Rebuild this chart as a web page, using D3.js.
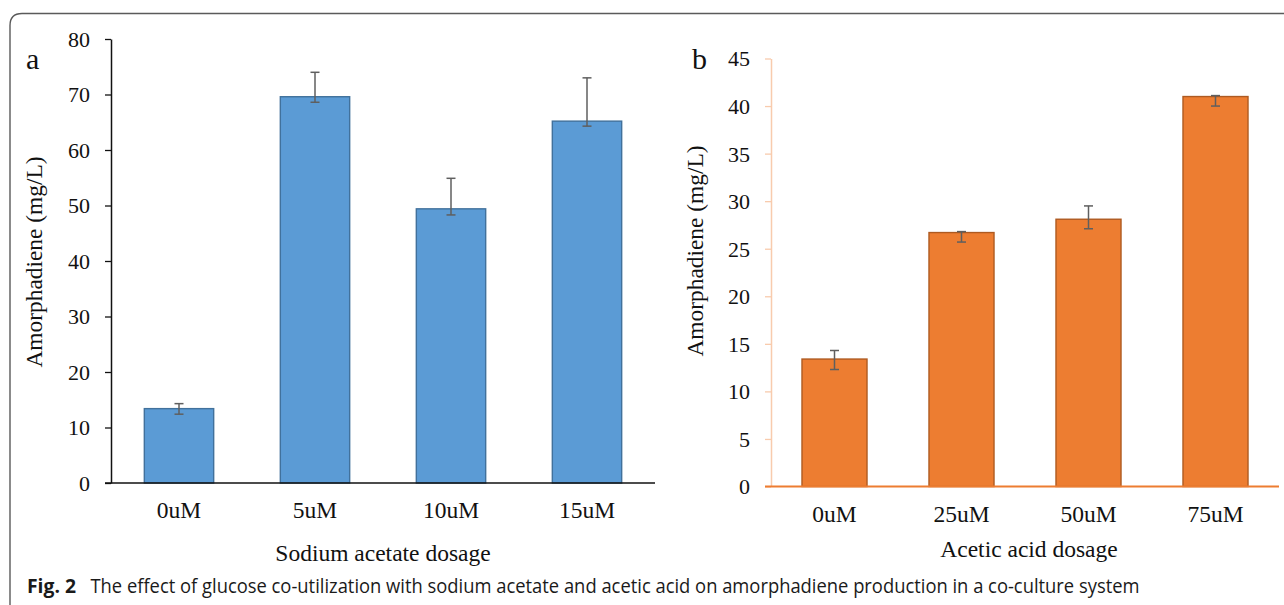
<!DOCTYPE html>
<html>
<head>
<meta charset="utf-8">
<script src="https://cdn.jsdelivr.net/npm/d3@7"></script>
<style>
  html, body { margin: 0; padding: 0; background: #fff; }
  svg { display: block; }
  .serif { font-family: "Liberation Serif", "Times New Roman", serif; fill: #111; }
</style>
</head>
<body>
<svg id="chart" width="1284" height="605"></svg>
<script>
// ---- Data ----
const catsA = ["0uM", "5uM", "10uM", "15uM"];
const valsA = [13.4, 69.6, 49.4, 65.2];
const errHiA = [14.3, 74.0, 54.9, 73.0];
const errLoA = [12.4, 68.6, 48.3, 64.3];
const ticksA = [0, 10, 20, 30, 40, 50, 60, 70, 80];

const catsB = ["0uM", "25uM", "50uM", "75uM"];
const valsB = [13.4, 26.7, 28.1, 41.0];
const errHiB = [14.3, 26.8, 29.5, 41.1];
const errLoB = [12.3, 25.7, 27.1, 40.0];
const ticksB = [0, 5, 10, 15, 20, 25, 30, 35, 40, 45];

const svg = d3.select("#chart");

// ---- Frame ----
const r = 12;
svg.append("path")
  .attr("d", `M10,610 L10,${13.5 + r} Q10,13.5 ${10 + r},13.5 L1290,13.5`)
  .attr("fill", "none").attr("stroke", "#5a5a5a").attr("stroke-width", 1.4);

function panel(cfg) {
  const x = d3.scaleBand().domain(cfg.cats).range([cfg.x0, cfg.x1])
    .paddingInner(cfg.pad).paddingOuter(cfg.pad / 2);
  const y = d3.scaleLinear().domain([0, cfg.max]).range([cfg.y0, cfg.y1]);
  const g = svg.append("g");

  // y axis
  const yAx = g.append("g").attr("transform", `translate(${cfg.x0},0)`)
    .call(d3.axisLeft(y).tickValues(cfg.ticks).tickSize(6).tickPadding(15).tickSizeOuter(0));
  yAx.select(".domain").attr("stroke", cfg.yAxisColor).attr("stroke-width", 1.5);
  yAx.selectAll(".tick line").attr("stroke", cfg.yAxisColor).attr("stroke-width", 1.3);
  yAx.selectAll(".tick text").attr("class", "serif").attr("font-size", 22)
    .attr("fill", "#111").attr("dy", "0.34em");

  // bars
  const data = cfg.cats.map((c, i) => ({ c, v: cfg.vals[i], hi: cfg.hi[i], lo: cfg.lo[i] }));
  g.selectAll("rect.bar").data(data).enter().append("rect")
    .attr("class", "bar")
    .attr("x", d => x(d.c))
    .attr("width", x.bandwidth())
    .attr("y", d => y(d.v))
    .attr("height", d => y(0) - y(d.v))
    .attr("fill", cfg.fill).attr("stroke", cfg.stroke).attr("stroke-width", 1.4);

  // x axis line
  g.append("line")
    .attr("x1", cfg.x0 - 6).attr("x2", cfg.x1)
    .attr("y1", y(0)).attr("y2", y(0))
    .attr("stroke", cfg.xAxisColor).attr("stroke-width", cfg.xAxisWidth);

  // error bars
  const eb = g.selectAll("g.err").data(data).enter().append("g").attr("class", "err")
    .attr("stroke", "#5f5f5f").attr("stroke-width", 1.5);
  const cx = d => x(d.c) + x.bandwidth() / 2;
  eb.append("line").attr("x1", cx).attr("x2", cx).attr("y1", d => y(d.hi)).attr("y2", d => y(d.lo));
  eb.append("line").attr("x1", d => cx(d) - 4.5).attr("x2", d => cx(d) + 4.5).attr("y1", d => y(d.hi)).attr("y2", d => y(d.hi));
  eb.append("line").attr("x1", d => cx(d) - 4.5).attr("x2", d => cx(d) + 4.5).attr("y1", d => y(d.lo)).attr("y2", d => y(d.lo));

  // x labels
  g.selectAll("text.xl").data(data).enter().append("text")
    .attr("class", "serif").attr("font-size", 23.5).attr("text-anchor", "middle")
    .attr("x", cx).attr("y", cfg.xLabelY).text(d => d.c);

  // x title
  g.append("text").attr("class", "serif").attr("font-size", 23.5).attr("text-anchor", "middle")
    .attr("x", cfg.xTitleX).attr("y", cfg.xTitleY).text(cfg.xTitle);

  // y title
  g.append("text").attr("class", "serif").attr("font-size", 23.4).attr("text-anchor", "middle")
    .attr("transform", `translate(${cfg.yTitleX},${cfg.yTitleY}) rotate(-90)`)
    .text("Amorphadiene (mg/L)");

  // panel letter
  g.append("text").attr("class", "serif").attr("font-size", 30)
    .attr("x", cfg.letterX).attr("y", 69).text(cfg.letter);
}

panel({
  cats: catsA, vals: valsA, hi: errHiA, lo: errLoA, ticks: ticksA, max: 80,
  x0: 111, x1: 655, y0: 483, y1: 39, pad: 0.49,
  fill: "#5b9bd5", stroke: "#41719c",
  yAxisColor: "#111", xAxisColor: "#111", xAxisWidth: 1.6,
  xLabelY: 518, xTitle: "Sodium acetate dosage", xTitleX: 383, xTitleY: 561,
  yTitleX: 42, yTitleY: 262, letter: "a", letterX: 26
});

panel({
  cats: catsB, vals: valsB, hi: errHiB, lo: errLoB, ticks: ticksB, max: 45,
  x0: 771, x1: 1279, y0: 486.5, y1: 58.5, pad: 0.488,
  fill: "#ed7d31", stroke: "#ae5a21",
  yAxisColor: "#f8cbad", xAxisColor: "#ed7d31", xAxisWidth: 2,
  xLabelY: 522, xTitle: "Acetic acid dosage", xTitleX: 1029, xTitleY: 557,
  yTitleX: 703, yTitleY: 251, letter: "b", letterX: 692
});

// ---- Caption ----
svg.append("text")
  .attr("x", 27).attr("y", 593)
  .attr("font-family", "'Open Sans', 'Noto Sans', sans-serif").attr("font-weight", "bold")
  .attr("font-size", 20).attr("fill", "#1a1a1a")
  .attr("textLength", 49).attr("lengthAdjust", "spacingAndGlyphs")
  .text("Fig. 2");
svg.append("text")
  .attr("x", 90.5).attr("y", 593)
  .attr("font-family", "'Open Sans', 'Noto Sans', sans-serif")
  .attr("font-size", 20).attr("fill", "#1a1a1a")
  .attr("textLength", 1049).attr("lengthAdjust", "spacingAndGlyphs")
  .text("The effect of glucose co-utilization with sodium acetate and acetic acid on amorphadiene production in a co-culture system");
</script>
</body>
</html>
